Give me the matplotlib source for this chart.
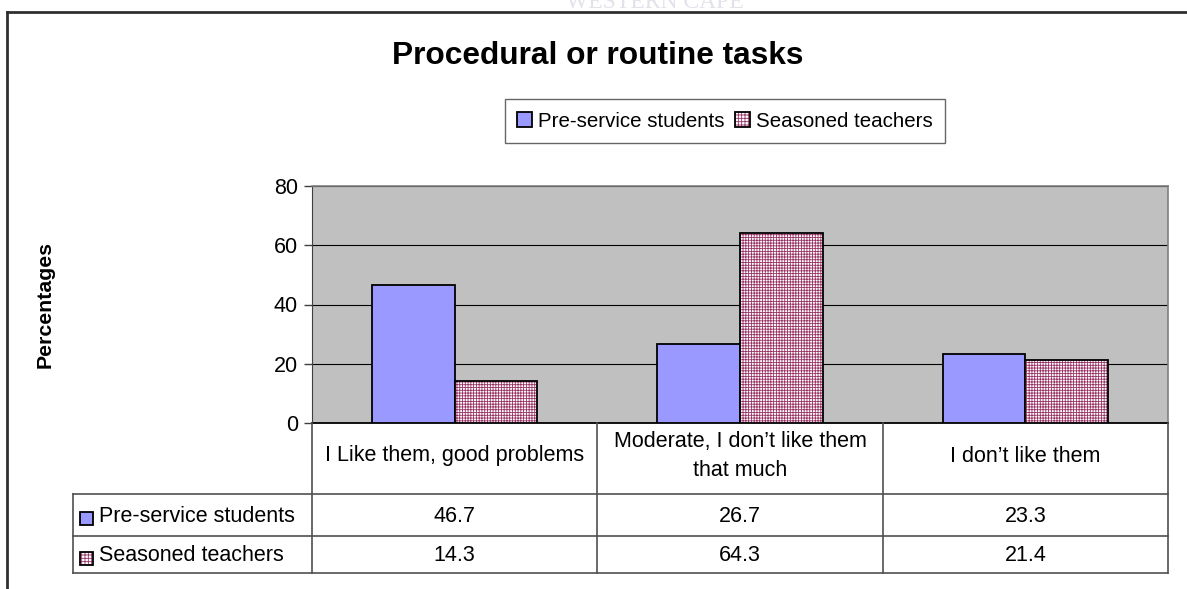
import matplotlib
matplotlib.use("Agg")
import matplotlib.pyplot as plt
import numpy as np
from matplotlib.patches import Rectangle
from matplotlib.lines import Line2D
from matplotlib.legend_handler import HandlerBase
from matplotlib.transforms import blended_transform_factory

categories = ["I Like them, good problems",
              "Moderate, I don\u2019t like them\nthat much",
              "I don\u2019t like them"]
series_names = ["Pre-service students", "Seasoned teachers"]
pre_service = [46.7, 26.7, 23.3]
seasoned = [14.3, 64.3, 21.4]
yticks = [0, 20, 40, 60, 80]
title = "Procedural or routine tasks"
ylabel = "Percentages"

plt.rcParams['font.family'] = ['Liberation Sans', 'DejaVu Sans']
plt.rcParams['hatch.linewidth'] = 0.6

W, H = 1187, 589
fig = plt.figure(figsize=(W / 100, H / 100), dpi=100)

def fx(px):
    return px / W

def fy(py):
    return 1 - py / H

FS = 15.5
blue = '#9999FF'
hcol = '#993366'
HATCH = '++++++'

ax = fig.add_axes([fx(312), fy(423), fx(1168) - fx(312), fy(186) - fy(423)])
ax.set_facecolor('#C0C0C0')

x = np.arange(len(categories))
bw = 0.29
ax.bar(x - bw / 2, pre_service, bw, color=blue, edgecolor='black', linewidth=1.3, zorder=3)
ax.bar(x + bw / 2, seasoned, bw, color='white', edgecolor=hcol, hatch=HATCH,
       linewidth=0, zorder=3)
ax.bar(x + bw / 2, seasoned, bw, color='none', edgecolor='black', linewidth=1.3, zorder=4)

ax.set_xlim(-0.5, len(categories) - 0.5)
ax.set_ylim(0, 80)
ax.set_yticks(yticks)
ax.set_yticklabels([str(v) for v in yticks], fontsize=FS)
ax.set_xticks([])
ax.yaxis.grid(True, color='black', linewidth=0.8, zorder=1)
ax.set_axisbelow(True)
ax.tick_params(axis='y', length=6, width=1, color='#404040', pad=4)
for s in ['top', 'right']:
    ax.spines[s].set_color('#808080')
    ax.spines[s].set_linewidth(1.2)
ax.spines['left'].set_color('#404040')
ax.spines['bottom'].set_color('black')
ax.spines['bottom'].set_linewidth(1.3)

# Title and y-label
fig.text(fx(598), fy(56), title, ha='center', va='center', fontsize=22.8, fontweight='bold')
fig.text(fx(45), fy(305), ylabel, ha='center', va='center', rotation=90,
         fontsize=15.3, fontweight='bold')


class HatchHandler(HandlerBase):
    def __init__(self, face, hatch):
        super().__init__()
        self.face = face
        self.hatch = hatch

    def create_artists(self, legend, orig_handle, xdescent, ydescent, width, height,
                       fontsize, trans):
        arts = []
        if self.hatch:
            arts.append(Rectangle((-xdescent, -ydescent), width, height, facecolor=self.face,
                                  edgecolor=hcol, hatch=self.hatch, linewidth=0,
                                  transform=trans))
        arts.append(Rectangle((-xdescent, -ydescent), width, height,
                              facecolor='none' if self.hatch else self.face,
                              edgecolor='black', linewidth=1.3, transform=trans))
        return arts


h1 = Rectangle((0, 0), 1, 1)
h2 = Rectangle((0, 0), 1, 1)
leg = fig.legend([h1, h2], series_names, loc='center', bbox_to_anchor=(fx(725), fy(121)),
                 ncol=2, fontsize=FS * 0.95, frameon=True, fancybox=False, edgecolor='#404040',
                 handlelength=0.75, handleheight=0.75, handletextpad=0.3, columnspacing=0.5,
                 borderpad=0.6, borderaxespad=0,
                 handler_map={h1: HatchHandler(blue, None), h2: HatchHandler('white', '+++++')})
leg.get_frame().set_linewidth(1.0)

# Data table beneath the axes
tr = blended_transform_factory(ax.transData, fig.transFigure)
lc = '#505050'
row_y = [423, 494, 536, 573]
col_x = [c - 0.5 for c in range(len(categories) + 1)]
for cx in col_x:
    fig.add_artist(Line2D([cx, cx], [fy(row_y[0]), fy(row_y[-1])], transform=tr,
                          color=lc, linewidth=1.2))
for ry in row_y[1:]:
    fig.add_artist(Line2D([fx(73), fx(1168)], [fy(ry), fy(ry)], transform=fig.transFigure,
                          color=lc, linewidth=1.2))
fig.add_artist(Line2D([fx(73), fx(73)], [fy(row_y[1]), fy(row_y[-1])],
                      transform=fig.transFigure, color=lc, linewidth=1.2))

for i, cat in enumerate(categories):
    t = fig.text(0, fy(456), cat, transform=tr, ha='center', va='center', fontsize=FS,
                 linespacing=1.55)
    t.set_x(i)

rows = [pre_service, seasoned]
styles = [(blue, None), ('white', '+++++')]
for r, (name, vals) in enumerate(zip(series_names, rows)):
    yc = (row_y[r + 1] + row_y[r + 2]) / 2
    face, hatch = styles[r]
    if hatch:
        fig.patches.append(Rectangle((fx(80), fy(yc + 10)), fx(13), fy(0) - fy(13),
                                     transform=fig.transFigure, linewidth=0,
                                     facecolor=face, edgecolor=hcol, hatch=hatch))
    fig.patches.append(Rectangle((fx(80), fy(yc + 10)), fx(13), fy(0) - fy(13),
                                 transform=fig.transFigure, linewidth=1.3, edgecolor='black',
                                 facecolor='none' if hatch else face))
    fig.text(fx(99), fy(yc + 1), name, ha='left', va='center', fontsize=FS)
    for i, v in enumerate(vals):
        fig.text(i, fy(yc + 1), f"{v:.1f}", transform=tr, ha='center', va='center',
                 fontsize=FS)

# Outer frame (top and left)
fig.add_artist(Line2D([fx(7), 1], [fy(12), fy(12)], transform=fig.transFigure,
                      color='#303030', linewidth=2))
fig.add_artist(Line2D([fx(7), fx(7)], [fy(12), 0], transform=fig.transFigure,
                      color='#303030', linewidth=2))

# faint watermark at top edge (cut off by the page edge, as in the source)
fig.text(fx(655), fy(8), "WESTERN CAPE", ha='center', va='baseline', fontsize=17,
         family='Liberation Serif', color='#E2E2EA')

fig.savefig('out.png', dpi=100)
